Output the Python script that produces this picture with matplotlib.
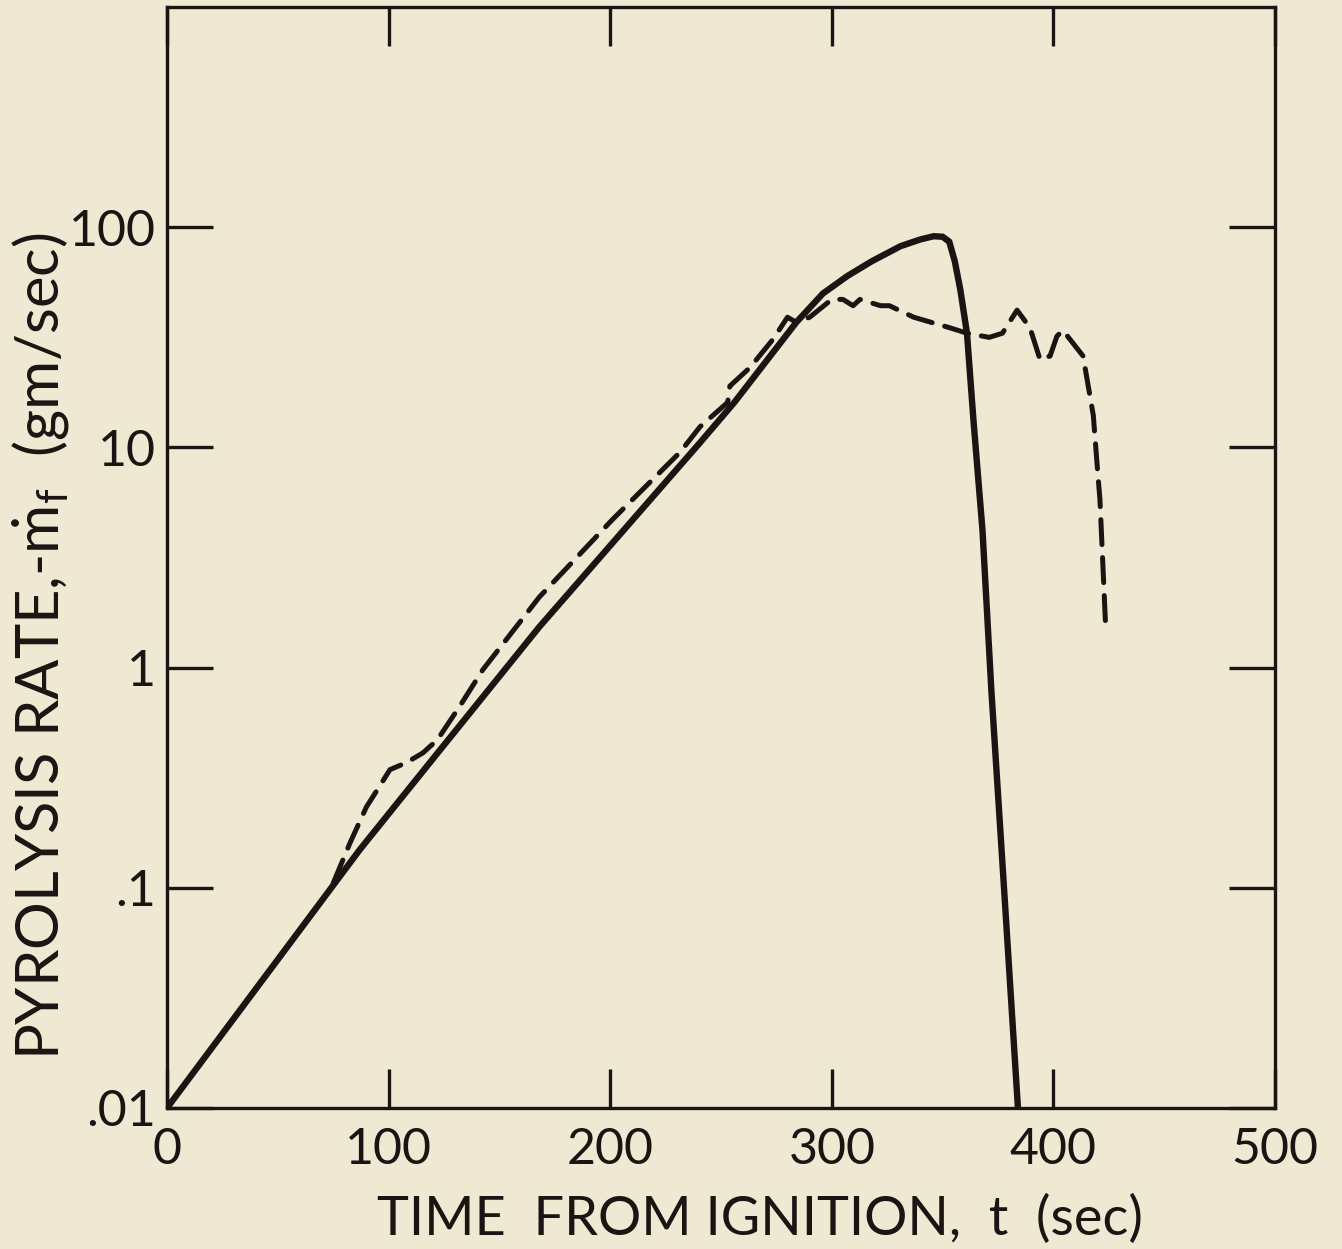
import matplotlib.pyplot as plt

plt.rcParams['font.family'] = ['Lato', 'DejaVu Sans']
plt.rcParams['mathtext.fontset'] = 'custom'
plt.rcParams['mathtext.rm'] = 'Lato'
plt.rcParams['mathtext.it'] = 'Lato:italic'

# calculated curve (solid)
t_calc = [0, 87, 123, 168, 240.5, 256, 284, 296, 307, 318, 331, 340, 346, 350, 353, 355.5, 358, 361,
          364, 368, 372, 378, 384]
rate_calc = [0.01, 0.149, 0.42, 1.53, 10.5, 16, 37, 50, 60, 70, 82, 88, 91, 90.5, 86, 70, 52, 33,
             13, 4.2, 0.79, 0.09, 0.01]

# measured curve (dashed)
t_meas = [75, 82.6, 90, 96, 100.6, 108, 115.5, 122, 132, 142.6, 168, 201, 231.5, 240.5, 253, 254,
          263, 273.5, 280, 284, 290, 300, 305, 309.6, 312.7, 322, 326, 337, 353, 361, 371, 377,
          383.6, 389.4, 394, 398.5, 401.6, 404.3, 413.4, 414.3, 418, 420, 421, 423.7]
rate_meas = [0.105, 0.16, 0.233, 0.29, 0.344, 0.37, 0.41, 0.47, 0.665, 0.98, 2.09, 4.7, 9.5, 12.4, 16, 19,
             23, 31, 39, 37, 39, 47, 47, 44, 47, 44, 44, 39, 35, 33, 31.6, 33,
             42, 35, 25, 26, 32, 34, 26, 23, 14, 7.7, 5.8, 1.44]

x_ticks = [0, 100, 200, 300, 400, 500]
y_ticks = [0.01, 0.1, 1, 10, 100]
y_ticklabels = ['.01', '.1', '1', '10', '100']

paper = '#efe9d4'
ink = '#1c1412'

fig = plt.figure(figsize=(13.42, 12.49), dpi=100, facecolor=paper)
ax = fig.add_axes([167 / 1342, 1 - 1108 / 1249, (1275 - 167) / 1342, (1108 - 7) / 1249])
ax.set_facecolor(paper)

ax.plot(t_calc, rate_calc, color=ink, lw=4.6, solid_joinstyle='round', solid_capstyle='round')
ax.plot(t_meas, rate_meas, color=ink, lw=3.6, dashes=(5, 2.6), dash_capstyle='round')

ax.set_yscale('log')
ax.set_xlim(0, 500)
ax.set_ylim(0.01, 1000)
ax.set_xticks(x_ticks)
ax.set_xticklabels([str(v) for v in x_ticks])
ax.set_yticks(y_ticks)
ax.set_yticklabels(y_ticklabels)
ax.minorticks_off()

ax.tick_params(axis='both', direction='in', top=True, right=True, width=2.4, color=ink,
               labelcolor=ink, labelsize=36)
ax.tick_params(axis='x', length=28, pad=14)
ax.tick_params(axis='y', length=33, pad=8)
for s in ax.spines.values():
    s.set_linewidth(2.4)
    s.set_color(ink)

ax.set_xlabel('TIME  FROM IGNITION,  t  (sec)', fontsize=39, color=ink)
ax.xaxis.set_label_coords(0.535, -0.078)
fig.text(41 / 1342, 1 - 646 / 1249, r'PYROLYSIS RATE,-$\dot{\mathrm{m}}_{\mathrm{f}}$  (gm/sec)',
         rotation=90, ha='center', va='center', fontsize=43, color=ink)

fig.savefig('out.png', dpi=100, facecolor=paper)
